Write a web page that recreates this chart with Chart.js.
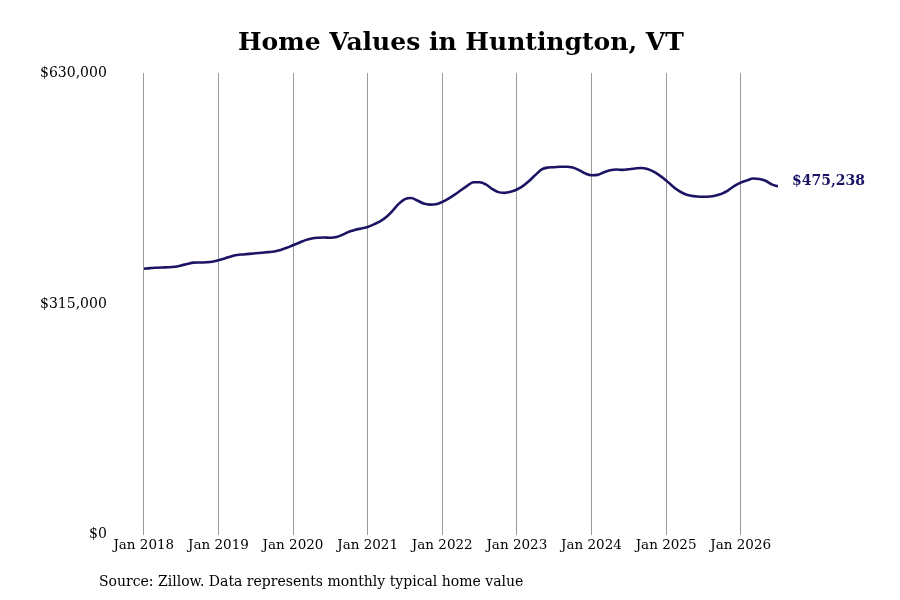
<!DOCTYPE html>
<html>
<head>
<meta charset="utf-8">
<script src="https://cdn.jsdelivr.net/npm/chart.js@4.4.1/dist/chart.umd.min.js"></script>
<style>
  html, body { margin: 0; padding: 0; background: #fff; }
  #wrap { width: 900px; height: 600px; }
</style>
</head>
<body>
<div id="wrap"><canvas id="chart" width="900" height="600"></canvas></div>
<script>
// monthly typical home value, Jan 2018 .. Jul 2026
const startYear = 2018
const homeValues = [
  363000, 363800, 364300, 364700, 365000, 365800, 367500, 369500, 371300, 371500, 371800, 372500,
  374500, 377000, 379800, 381700, 382500, 383200, 384000, 384800, 385600, 386500, 388500, 391500,
  395000, 398500, 402000, 404300, 405300, 405500, 405300, 406200, 409500, 413500, 416000, 418000,
  420000, 423500, 427500, 433500, 442000, 451500, 458000, 459500, 456000, 452000, 450500, 451000,
  454000, 458500, 464000, 470000, 476000, 481000, 481000, 478000, 472000, 467500, 466500, 468000,
  471000, 476000, 483000, 491000, 498500, 501000, 501500, 502000, 502200, 501000, 497500, 493000,
  490500, 491000, 494500, 497200, 498300, 497800, 498800, 499800, 500500, 499000, 495500, 490000,
  483500, 476000, 469500, 465000, 462500, 461500, 461200, 461500, 463000, 465500, 470000, 476000,
  480500, 483500, 486000, 485500, 483000, 478000, 475238
]
const yTicks = [0, 315000, 630000]
const chartTitle = 'Home Values in Huntington, VT'
const sourceNote = 'Source: Zillow. Data represents monthly typical home value'

const lineColor = '#1b1464'
const serif = "'DejaVu Serif', serif"

const fmt = v => '$' + v.toLocaleString('en-US')

// value label at the end of the line
const endLabel = {
  id: 'endLabel',
  afterDatasetsDraw(chart) {
    const pts = chart.getDatasetMeta(0).data
    const last = pts[pts.length - 1]
    const ctx = chart.ctx
    ctx.save()
    ctx.font = 'bold 14px ' + serif
    ctx.fillStyle = lineColor
    ctx.textAlign = 'left'
    ctx.textBaseline = 'middle'
    ctx.fillText(fmt(homeValues[homeValues.length - 1]), last.x + 14, last.y - 5)
    ctx.restore()
  }
}

const sourceText = {
  id: 'sourceText',
  afterDraw(chart) {
    const ctx = chart.ctx
    ctx.save()
    ctx.font = '14px ' + serif
    ctx.fillStyle = '#000'
    ctx.textBaseline = 'middle'
    ctx.fillText(sourceNote, 99, 582)
    ctx.restore()
  }
}

const ctx = document.getElementById('chart')
Chart.defaults.font.family = serif
Chart.defaults.color = '#000'

new Chart(ctx, {
  type: 'line',
  data: {
    datasets: [{
      data: homeValues.map((v, i) => ({ x: i, y: v })),
      borderColor: lineColor,
      borderWidth: 2.6,
      pointRadius: 0,
      cubicInterpolationMode: 'monotone',
      fill: false
    }]
  },
  options: {
    responsive: false,
    animation: false,
    layout: { padding: { left: 3, right: 122, top: 0, bottom: 43 } },
    plugins: {
      legend: { display: false },
      tooltip: { enabled: false },
      title: {
        display: true,
        text: chartTitle,
        fullSize: false,
        color: '#000',
        font: { size: 25, weight: 'bold', family: serif },
        padding: { top: 28, bottom: 15 }
      }
    },
    scales: {
      x: {
        type: 'linear',
        min: 0,
        max: homeValues.length - 1,
        border: { display: false },
        grid: { color: '#999', lineWidth: 1, drawTicks: false },
        ticks: {
          stepSize: 12,
          includeBounds: false,
          autoSkip: false,
          maxRotation: 0,
          padding: 3,
          font: { size: 13.5 },
          callback: v => 'Jan ' + (startYear + v / 12)
        }
      },
      y: {
        min: yTicks[0],
        max: yTicks[yTicks.length - 1],
        border: { display: false },
        grid: { display: false, drawTicks: false },
        afterBuildTicks: axis => { axis.ticks = yTicks.map(v => ({ value: v })) },
        ticks: {
          padding: 37,
          font: { size: 14 },
          callback: v => fmt(v)
        }
      }
    }
  },
  plugins: [endLabel, sourceText]
})
</script>
</body>
</html>
